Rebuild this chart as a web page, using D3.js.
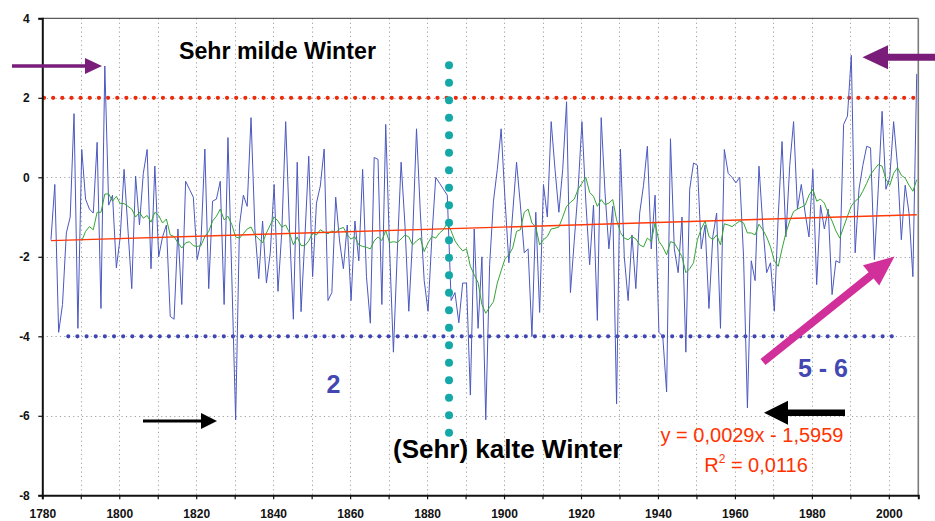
<!DOCTYPE html>
<html>
<head>
<meta charset="utf-8">
<script src="https://cdn.jsdelivr.net/npm/d3@7/dist/d3.min.js"></script>
<style>
  html, body { margin: 0; padding: 0; background: #fff; }
  svg { display: block; font-family: "Liberation Sans", Arial, Helvetica, sans-serif; }
</style>
</head>
<body>
<svg id="chart" width="935" height="521"></svg>
<script>
// ---------------- DATA ----------------
const firstYear = 1782;
// winter temperature values (blue line), 1782 .. 2007
const winterTemp = [
  -1.57, -0.18, -3.9, -3.2, -1.4, -1.0, 1.6, -3.8,
  0.7, -0.55, -0.8, -0.9, 0.88, -3.3, 2.8, -0.7, -0.45, -2.28,
  -1.5, 0.2, -1.3, -2.8, 0.03, -1.2, 0.1, 0.7, -2.3, 0.28,
  -2.0, -1.5, -1.2, -3.5, -3.57, -1.3, -3.2, -0.1, -0.3, -0.5,
  -2.07, -1.6, 0.71, -2.8, -0.6, -0.55, -0.1, -3.2, 1.0, -2.5,
  -6.1, -1.2, -0.45, -0.73, 1.5, -1.3, -2.55, -1.1, -2.66, -1.9,
  -0.18, -2.87, -1.36, 1.4, -1.3, -3.57, 0.38, -3.38, -1.5, 0.53,
  -2.5, -0.65, -0.22, 0.71, -3.1, -2.9, -0.5, -1.6, -2.3, -1.2,
  -3.1, -1.1, -2.1, 0.2, -2.5, -3.67, 0.5, 0.45, -3.2, 1.33,
  -1.8, -4.4, -1.9, 0.38, -1.2, -3.37, -1.5, 1.22, -0.9, -2.6,
  -3.37, -1.5, 0.0, -0.15, -0.3, -0.45, -3.1, -2.9, -3.66, -2.66,
  -2.66, -5.48, -1.3, -3.8, -2.0, -6.1, -2.2, -0.6, 0.2, 1.22,
  -0.56, -2.15, -0.9, 0.38, -0.7, -1.9, -1.8, -4.0, -0.88, -3.4,
  -0.18, -1.0, 1.4, 0.2, -0.88, 0.2, 1.9, -2.9, -1.6, -0.3,
  1.4, -0.6, -2.2, -0.7, -3.6, 1.5, -0.4, -1.8, -0.73, -5.7,
  0.71, -2.0, -3.1, -1.45, -2.8, -0.9, -0.2, 0.78, -1.8, -0.45,
  -3.9, -4.0, -5.4, 0.97, -1.8, -2.4, -1.0, -4.4, -0.3, 0.36,
  0.3, -1.8, -1.2, -3.3, -1.5, -0.9, -3.8, 0.7, 0.1, 0.0,
  -0.14, 0.0, -2.0, -5.8, -2.1, -2.6, 0.28, -1.2, -2.4, -2.15,
  -3.37, -1.0, 0.9, -1.5, 0.3, 1.4, -0.8, -0.18, -0.9, -1.5,
  0.2, -2.7, -0.7, -1.3, -0.8, -2.95, -2.1, -2.15, 1.33, 1.54,
  3.07, -1.9, -0.3, 0.3, 0.78, 0.74, -2.07, -0.3, 1.66, -0.3,
  0.0, 1.4, 0.3, -1.57, -0.2, -0.9, -2.5, 2.6
];

// moving average (green line), 1790 .. 2007
const maFirstYear = 1790;
const movingAvg = [
  -1.6, -1.36, -1.24, -1.32, -0.88, -0.88, -0.42, -0.42, -0.6, -0.48,
  -0.66, -0.66, -0.73, -0.8, -1.0, -0.88, -1.03, -0.96, -1.13, -0.88,
  -0.96, -1.15, -1.05, -1.45, -1.49, -1.65, -1.78, -1.65, -1.62, -1.72,
  -1.74, -1.72, -1.49, -1.36, -1.1, -0.98, -0.8, -1.07, -0.98, -1.19,
  -1.5, -1.53, -1.42, -1.3, -1.25, -1.45, -1.55, -1.65, -1.4, -1.2,
  -1.0, -1.1, -1.25, -1.2, -1.4, -1.7, -1.5, -1.72, -1.72, -1.6,
  -1.4, -1.45, -1.32, -1.38, -1.42, -1.35, -1.39, -1.3, -1.26, -1.45,
  -1.55, -1.5, -1.7, -1.74, -1.76, -1.8, -1.6, -1.5, -1.59, -1.34,
  -1.64, -1.62, -1.64, -1.55, -1.45, -1.5, -1.7, -1.6, -1.53, -1.87,
  -1.65, -1.49, -1.53, -1.4, -1.32, -1.15, -1.35, -1.6, -1.74, -1.85,
  -1.8, -2.24, -2.45, -2.65, -3.2, -3.42, -3.27, -3.13, -2.66, -2.35,
  -2.05, -1.95, -1.78, -1.36, -1.32, -0.88, -0.8, -1.15, -1.25, -1.7,
  -1.57, -1.49, -1.3, -1.28, -1.25, -1.0, -0.73, -0.63, -0.55, -0.3,
  -0.15, 0.0, -0.38, -0.48, -0.73, -0.56, -0.69, -0.65, -0.56, -1.07,
  -1.39, -1.53, -1.57, -1.49, -1.55, -1.7, -1.75, -1.53, -1.61, -1.15,
  -1.61, -1.75, -1.95, -1.62, -1.65, -1.82, -2.0, -2.4, -2.3, -2.15,
  -1.57, -1.3, -1.1, -1.49, -1.57, -1.45, -1.7, -1.17, -1.2, -1.24,
  -1.17, -1.1, -1.15, -1.4, -1.4, -1.45, -1.18, -1.32, -1.5, -1.75,
  -2.1, -2.24, -1.8, -1.4, -1.1, -0.86, -0.8, -0.75, -0.7, -0.45,
  -0.3, -0.6, -0.55, -0.65, -0.9, -1.1, -1.35, -1.53, -1.25, -0.98,
  -0.72, -0.6, -0.52, -0.35, -0.15, 0.07, 0.2, 0.32, 0.28, -0.05,
  -0.2, 0.1, 0.24, 0.05, -0.02, -0.2, -0.35, -0.06
];

// linear trend shown in the chart: y = 0,0029x - 1,5959 (x = 1, 2, ...)
const trendSlope = 0.0029;
const trendIntercept = -1.5959;
const trendLabel = "y = 0,0029x - 1,5959";
const r2Value = "0,0116";

const xTickLabels = [1780, 1800, 1820, 1840, 1860, 1880, 1900, 1920, 1940, 1960, 1980, 2000];
const xGridYears = [1790, 1800, 1810, 1820, 1830, 1840, 1850, 1860, 1870, 1880, 1890, 1900, 1910, 1920, 1930, 1940, 1950, 1960, 1970, 1980, 1990, 2000];
const yTickValues = [-8, -6, -4, -2, 0, 2, 4];

const mildLimit = 2;      // red dotted line
const coldLimit = -4;     // blue dotted line
const markYear = 1885.7;  // teal dotted vertical line

// ---------------- LAYOUT ----------------
const svg = d3.select("#chart");
const L = 42.3, T = 18.3, R = 918.3, B = 495.3;
const x = d3.scaleLinear().domain([1780, 2007.66]).range([L, R]);
const y = d3.scaleLinear().domain([-8, 4]).range([B, T]);
const pos = yr => x(yr + 0.25);

const blueData = winterTemp.map((v, i) => ({ year: firstYear + i, v }));
const greenData = movingAvg.map((v, i) => ({ year: maFirstYear + i, v }));

// grid
const grid = svg.append("g").attr("stroke", "#a0a0a0").attr("stroke-width", 1).attr("stroke-dasharray", "1.2,3.2");
grid.selectAll("line.v").data(xGridYears).join("line")
  .attr("x1", d => Math.round(x(d)) + 0.5).attr("x2", d => Math.round(x(d)) + 0.5)
  .attr("y1", T).attr("y2", B);
grid.selectAll("line.h").data(yTickValues.filter(d => d > -8 && d < 4)).join("line")
  .attr("x1", L).attr("x2", R)
  .attr("y1", d => Math.round(y(d)) + 0.5).attr("y2", d => Math.round(y(d)) + 0.5);

// frame (top & right)
svg.append("line").attr("x1", L).attr("x2", R).attr("y1", T).attr("y2", T).attr("stroke", "#333").attr("stroke-width", 1);
svg.append("line").attr("x1", R).attr("x2", R).attr("y1", T).attr("y2", B).attr("stroke", "#7a7a7a").attr("stroke-width", 1.6);

// threshold dotted lines
svg.append("line").attr("x1", x(1780.45)).attr("x2", x(2007.4)).attr("y1", y(mildLimit)).attr("y2", y(mildLimit))
  .attr("stroke", "#ee2a0a").attr("stroke-width", 4.2).attr("stroke-linecap", "round").attr("stroke-dasharray", "0,9.15");
svg.append("line").attr("x1", x(1786.75)).attr("x2", x(2002.1)).attr("y1", y(coldLimit)).attr("y2", y(coldLimit))
  .attr("stroke", "#3e46b4").attr("stroke-width", 4.2).attr("stroke-linecap", "round").attr("stroke-dasharray", "0,9.15");

// blue series
svg.append("path").datum(blueData)
  .attr("fill", "none").attr("stroke", "#4b58bf").attr("stroke-width", 1).attr("stroke-linejoin", "round")
  .attr("d", d3.line().x(d => pos(d.year)).y(d => y(d.v)));

// green moving average
svg.append("path").datum(greenData)
  .attr("fill", "none").attr("stroke", "#35a535").attr("stroke-width", 1)
  .attr("d", d3.line().x(d => pos(d.year)).y(d => y(d.v)));

// red trend line
const trendData = [
  { year: firstYear, v: trendSlope * 1 + trendIntercept },
  { year: firstYear + winterTemp.length - 1, v: trendSlope * winterTemp.length + trendIntercept }
];
svg.append("path").datum(trendData)
  .attr("fill", "none").attr("stroke", "#ff3a0a").attr("stroke-width", 1.4)
  .attr("d", d3.line().x(d => pos(d.year)).y(d => y(d.v)));

// teal vertical dotted
svg.append("line").attr("x1", x(markYear)).attr("x2", x(markYear)).attr("y1", y(2.82)).attr("y2", y(-6.45))
  .attr("stroke", "#14a8a8").attr("stroke-width", 8).attr("stroke-linecap", "round").attr("stroke-dasharray", "0,17.5");

// axes
const xAxis = d3.axisBottom(x).tickValues(d3.range(1780, 2001, 10)).tickSize(4).tickFormat(d => xTickLabels.includes(d) ? d : "");
const gx = svg.append("g").attr("transform", `translate(0,${B})`).call(xAxis);
gx.select(".domain").attr("stroke", "#111").attr("stroke-width", 2);
gx.selectAll(".tick line").attr("stroke", "#111").attr("stroke-width", 1.2);
gx.selectAll(".tick text").attr("font-family", "Liberation Sans, Arial, sans-serif").attr("font-size", 12)
  .attr("font-weight", "bold").attr("fill", "#111").attr("dy", null).attr("y", 22.5);

const yAxis = d3.axisLeft(y).tickValues(yTickValues).tickSize(4).tickFormat(d3.format("d"));
const gy = svg.append("g").attr("transform", `translate(${L},0)`).call(yAxis);
gy.select(".domain").attr("stroke", "#111").attr("stroke-width", 2);
gy.selectAll(".tick line").attr("stroke", "#111").attr("stroke-width", 1.2);
gy.selectAll(".tick text").attr("font-family", "Liberation Sans, Arial, sans-serif").attr("font-size", 12)
  .attr("font-weight", "bold").attr("fill", "#111").attr("x", -12.5).text(d => d < 0 ? "-" + Math.abs(d) : d);

// ---------------- ANNOTATIONS ----------------
function arrow(x1, y1, x2, y2, w, hl, hw, color) {
  const dx = x2 - x1, dy = y2 - y1, len = Math.hypot(dx, dy);
  const ux = dx / len, uy = dy / len, nx = -uy, ny = ux;
  const bx = x2 - ux * hl, by = y2 - uy * hl;
  const p = [
    [x1 + nx * w / 2, y1 + ny * w / 2],
    [bx + nx * w / 2, by + ny * w / 2],
    [bx + nx * hw / 2, by + ny * hw / 2],
    [x2, y2],
    [bx - nx * hw / 2, by - ny * hw / 2],
    [bx - nx * w / 2, by - ny * w / 2],
    [x1 - nx * w / 2, y1 - ny * w / 2]
  ];
  svg.append("path").attr("d", "M" + p.map(q => q.join(",")).join("L") + "Z").attr("fill", color);
}
arrow(12, 66, 102, 66, 3.7, 17, 16, "#7a1c7a");
arrow(935, 57.3, 862.5, 57.3, 7, 25.5, 24, "#7a1c7a");
arrow(143, 421, 217, 421, 3, 16, 16, "#000");
arrow(845, 412.7, 764, 412.7, 6.5, 24, 24, "#000");
arrow(763, 362, 894.5, 256.5, 8, 30, 26, "#d1309a");

const txt = (t, xx, yy, size, weight, color, anchor) =>
  svg.append("text").attr("x", xx).attr("y", yy).attr("font-size", size).attr("font-weight", weight)
    .attr("fill", color).attr("text-anchor", anchor || "start").text(t);

txt("Sehr milde Winter", 179, 59.3, 23.2, "bold", "#000");
txt("(Sehr) kalte Winter", 393, 458.3, 26, "bold", "#000");
txt("2", 326.5, 393.3, 25, "bold", "#4347b2");
txt("5 - 6", 798, 376.7, 25, "bold", "#4347b2");
txt(trendLabel, 752, 441.7, 20, "normal", "#ff3300", "middle");
const r2 = svg.append("text").attr("x", 756).attr("y", 471.7).attr("font-size", 20).attr("fill", "#ff3300").attr("text-anchor", "middle");
r2.append("tspan").text("R");
r2.append("tspan").attr("font-size", 12).attr("dy", -9).text("2");
r2.append("tspan").attr("dy", 9).text(" = " + r2Value);
</script>
</body>
</html>
